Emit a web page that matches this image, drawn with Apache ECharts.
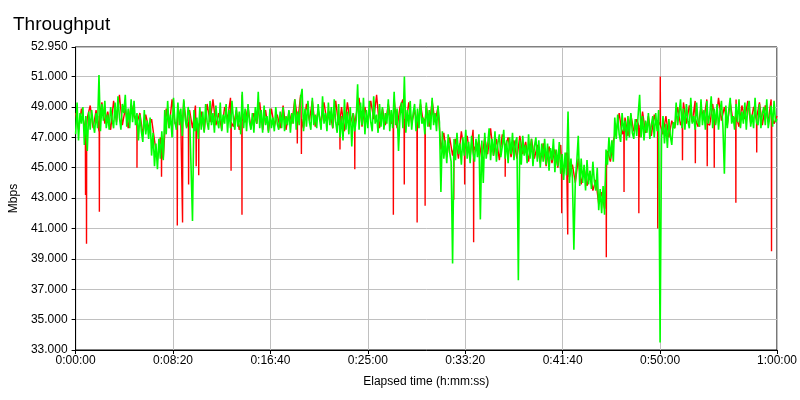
<!DOCTYPE html>
<html>
<head>
<meta charset="utf-8">
<script src="https://cdn.jsdelivr.net/npm/echarts@6/dist/echarts.min.js"></script>
<style>
  html, body { margin: 0; padding: 0; background: #fff; }
  #chart { width: 800px; height: 400px; }
</style>
</head>
<body>
<div id="chart"></div>
<script>
// throughput over one hour
const xTicks = [0, 500, 1000, 1500, 2000, 2500, 3000, 3600]
const yTicks = [33, 35, 37, 39, 41, 43, 45, 47, 49, 51, 52.95]

// green trace, one value every 7.5 s
const greenStep = 7.5
const greenValues = [
  47.2, 49.3, 46.8, 48.6, 47.9, 49.0, 46.5, 48.4, 46.1, 48.7,
  47.5, 48.8, 47.9, 47.3, 48.6, 47.6, 51.1, 47.4, 49.2, 48.1,
  49.4, 47.6, 48.5, 47.5, 49.0, 48.2, 47.6, 49.3, 47.8, 49.7,
  48.3, 47.5, 49.2, 48.6, 49.8, 47.7, 48.9, 47.6, 49.5, 48.0,
  49.4, 47.8, 48.6, 46.8, 48.5, 47.4, 46.7, 48.8, 47.2, 48.1,
  46.9, 48.3, 45.8, 47.3, 45.1, 46.6, 44.9, 46.9, 45.6, 47.4,
  45.5, 48.8, 47.2, 49.4, 47.6, 48.5, 47.0, 49.6, 48.0, 47.5,
  49.3, 47.8, 48.9, 47.1, 49.5, 48.2, 47.6, 49.0, 48.4, 45.1,
  41.5, 48.8, 47.4, 48.3, 46.9, 49.0, 47.5, 48.7, 47.3, 49.2,
  48.0, 47.5, 49.4, 47.8, 48.6, 47.3, 49.1, 48.1, 47.6, 49.3,
  47.4, 48.5, 47.9, 49.2, 47.3, 48.8, 47.6, 49.4, 48.2, 47.5,
  49.0, 47.7, 48.7, 47.2, 50.0, 47.6, 48.9, 47.4, 49.2, 48.0,
  47.5, 48.6, 47.3, 49.0, 47.9, 50.0, 47.6, 48.8, 47.3, 49.1,
  47.8, 48.4, 47.3, 48.9, 47.6, 48.3, 47.4, 49.0, 47.9, 47.5,
  48.7, 47.6, 49.0, 47.4, 48.4, 47.8, 48.8, 47.3, 48.6, 47.9,
  49.5, 47.5, 48.7, 47.8, 49.6, 50.2, 47.4, 48.9, 47.7, 49.4,
  48.0, 47.5, 49.6, 47.8, 48.5, 47.6, 49.2, 48.2, 47.5, 49.7,
  47.9, 48.6, 47.4, 49.3, 47.8, 49.0, 47.6, 49.5, 48.0, 47.3,
  49.2, 47.0, 48.4, 46.8, 49.5, 47.5, 48.7, 47.2, 49.0, 46.4,
  48.6, 47.4, 48.1, 50.5, 47.5, 49.3, 47.8, 49.6, 47.2, 48.8,
  47.6, 49.4, 48.0, 47.4, 49.7, 47.9, 48.5, 47.3, 49.2, 47.7,
  49.0, 47.5, 48.6, 47.9, 49.5, 47.4, 48.8, 47.6, 50.0, 47.8,
  48.9, 46.1, 48.4, 49.3, 47.6, 51.0, 47.3, 48.8, 47.7, 49.4,
  47.5, 48.6, 49.2, 47.4, 48.9, 47.6, 49.5, 47.9, 48.3, 47.2,
  49.3, 47.7, 48.8, 47.5, 49.6, 47.8, 48.6, 47.4, 49.1, 48.0,
  43.4, 47.4, 45.6, 46.8, 45.3, 47.2, 46.0, 45.4, 38.7, 46.9,
  45.5, 47.3, 45.9, 46.6, 45.2, 47.0, 45.8, 47.5, 45.6, 46.7,
  45.3, 47.1, 46.0, 45.4, 46.9, 45.7, 47.2, 41.6, 46.8, 44.0,
  47.3, 45.6, 46.5, 47.6, 45.5, 46.9, 45.8, 47.4, 45.4, 46.6,
  47.2, 45.7, 46.4, 47.5, 45.6, 46.8, 45.3, 47.0, 45.9, 47.3,
  45.5, 46.7, 47.0, 37.6, 46.8, 45.2, 47.1, 45.8, 46.5, 45.3,
  47.2, 45.6, 46.9, 45.1, 46.4, 47.0, 45.4, 46.8, 45.0, 46.6,
  45.4, 46.9, 45.2, 46.6, 44.8, 46.3, 45.5, 46.9, 44.7, 46.2,
  45.1, 46.7, 44.6, 45.9, 44.2, 46.0, 44.5, 48.7, 44.0, 45.6,
  44.3, 39.6, 44.2, 45.4, 47.1, 43.8, 45.6, 44.0, 45.2, 43.5,
  45.5, 43.9, 44.8, 43.6, 45.4, 44.1, 43.5, 45.0, 42.2, 43.6,
  42.0, 43.8, 41.9, 46.2, 45.2, 47.0, 45.6, 46.8, 45.4, 48.3,
  46.9, 48.5, 47.2, 46.7, 48.6, 47.4, 48.1, 46.8, 48.4, 47.0,
  48.6, 47.3, 46.9, 48.2, 47.1, 48.5, 49.8, 47.0, 48.4, 46.8,
  48.1, 47.3, 48.6, 46.9, 47.8, 48.4, 47.0, 48.6, 47.4, 48.8,
  33.5, 47.0, 48.4, 46.6, 47.9, 46.3, 48.2, 47.1, 46.5, 48.0,
  47.6, 49.3, 47.8, 48.6, 49.5, 47.6, 48.9, 47.5, 49.2, 48.1,
  47.6, 49.6, 47.9, 48.4, 47.5, 49.3, 48.0, 47.7, 49.5, 47.8,
  48.8, 47.5, 49.4, 47.9, 48.5, 49.7, 47.6, 48.9, 47.8, 49.2,
  47.5, 48.7, 49.4, 47.7, 44.6, 49.1, 47.6, 48.8, 49.6, 47.9,
  48.4, 47.5, 49.2, 48.0, 49.5, 47.6, 48.7, 47.9, 49.3, 47.5,
  48.9, 49.4, 47.7, 48.5, 47.6, 49.6, 48.0, 47.8, 49.2, 47.6,
  48.6, 49.0, 47.8, 49.5, 47.6, 48.3, 49.1, 47.7, 49.4, 48.0,
  48.2
]

// red trace, one value every 15 s
const redStep = 15
const redValues = [
  48.6, 47.5, 48.9, 47.8, 48.3, 49.1, 47.6, 48.8, 47.4, 49.3,
  47.9, 48.7, 47.5, 49.4, 48.0, 49.8, 47.8, 48.9, 47.6, 49.2,
  48.4, 47.4, 48.6, 47.2, 48.5, 47.6, 48.2, 46.8, 45.5, 47.0,
  45.6, 48.9, 47.6, 49.5, 47.9, 49.0, 48.1, 49.4, 47.7, 48.8,
  47.6, 49.1, 47.9, 48.7, 47.4, 49.2, 48.0, 49.5, 47.8, 48.6,
  47.5, 49.0, 48.2, 49.6, 47.7, 48.8, 47.5, 49.8, 48.0, 49.0,
  47.6, 48.6, 47.9, 49.3, 47.5, 48.8, 47.4, 48.9, 47.7, 48.5,
  47.6, 49.1, 47.5, 48.7, 47.9, 49.5, 48.0, 49.8, 47.6, 49.2,
  48.1, 49.4, 47.7, 48.8, 47.9, 49.3, 48.0, 48.7, 47.6, 49.4,
  47.8, 49.0, 47.4, 49.3, 47.9, 48.6, 48.1, 49.6, 47.7, 49.0,
  47.9, 49.4, 48.2, 49.8, 47.6, 48.9, 47.8, 49.2, 47.9, 49.5,
  47.6, 49.0, 49.5, 47.8, 49.3, 47.9, 48.8, 47.6, 49.2, 48.0,
  49.1, 47.7, 49.4, 48.0, 49.0, 46.2, 47.3, 45.7, 47.0, 45.8,
  46.9, 45.6, 47.4, 46.0, 47.1, 45.7, 47.5, 46.1, 46.8, 45.6,
  47.0, 45.9, 47.6, 45.8, 46.9, 45.5, 47.2, 46.0, 47.0, 45.7,
  46.8, 45.6, 47.1, 45.9, 46.7, 45.4, 46.9, 45.6, 46.5, 45.3,
  46.6, 45.1, 46.4, 45.3, 46.2, 45.0, 46.5, 44.6, 46.0, 44.4,
  45.2, 44.0, 45.6, 43.9, 45.0, 43.8, 44.8, 43.5, 44.2, 42.6,
  43.4, 42.3, 46.1, 45.4, 46.8, 47.4, 48.6, 47.2, 48.3, 47.1,
  48.5, 47.4, 48.2, 47.0, 48.7, 47.3, 48.4, 47.1, 48.5, 47.6,
  48.0, 47.2, 48.4, 47.0, 48.1, 47.6, 49.0, 47.8, 49.3, 47.9,
  49.1, 48.0, 49.4, 47.7, 49.0, 48.2, 49.5, 47.8, 49.2, 47.9,
  49.6, 48.1, 49.0, 47.8, 49.3, 48.0, 49.5, 47.7, 49.1, 48.2,
  49.4, 47.9, 49.0, 48.1, 49.3, 47.8, 49.1, 48.0, 49.5, 47.9,
  48.4
]

// red drop-outs: [seconds, level around it, lowest Mbps]
const redDrops = [
  [51, 47.6, 43.2], [56, 47.8, 40.0], [122, 48.4, 42.1], [315, 48.0, 45.0],
  [441, 46.4, 44.4], [522, 47.8, 41.2], [549, 48.2, 41.4], [580, 48.0, 43.9],
  [619, 47.6, 45.1], [632, 47.6, 44.5], [798, 48.0, 44.8], [854, 48.2, 41.9],
  [1138, 48.4, 46.6], [1159, 48.2, 45.9], [1357, 48.2, 46.2], [1433, 48.0, 44.9],
  [1631, 48.2, 41.9], [1687, 48.2, 43.9], [1753, 48.0, 41.4], [1794, 48.2, 42.5],
  [1941, 46.2, 42.9], [1997, 46.2, 43.9], [2043, 46.4, 40.1], [2205, 46.4, 44.4],
  [2495, 45.4, 42.0], [2526, 46.0, 40.6], [2724, 45.0, 39.1], [2815, 47.6, 43.4],
  [2891, 47.8, 42.0], [2988, 47.8, 41.0], [3001, 47.8, 51.0], [3115, 48.2, 45.5],
  [3181, 48.2, 45.3], [3242, 47.9, 45.1], [3278, 48.4, 45.0], [3389, 48.4, 42.7],
  [3496, 48.4, 46.0], [3572, 48.4, 39.5]
]

function hms(v) {
  const h = Math.floor(v / 3600)
  const m = Math.floor((v % 3600) / 60)
  const s = Math.round(v % 60)
  return h + ':' + String(m).padStart(2, '0') + ':' + String(s).padStart(2, '0')
}

const redData = redValues.map((v, i) => [i * redStep, v])
redDrops.forEach(d => {
  redData.push([d[0] - 1, d[1]], [d[0], d[2]], [d[0] + 1, d[1]])
})
redData.sort((a, b) => a[0] - b[0])

const font = 'Liberation Sans, Arial, sans-serif'
const chart = echarts.init(document.getElementById('chart'))
const option = {
  animation: false,
  backgroundColor: '#fff',
  title: {
    text: 'Throughput',
    left: 8,
    top: 10,
    textStyle: { fontFamily: font, fontSize: 19, fontWeight: 'normal', color: '#000' }
  },
  grid: {
    left: 70, right: 22, top: 47, bottom: 50,
    show: true, borderColor: '#000', borderWidth: 1
  },
  xAxis: {
    type: 'value',
    min: 0,
    max: 3600,
    name: 'Elapsed time (h:mm:ss)',
    nameLocation: 'middle',
    nameGap: 26,
    nameTextStyle: { fontFamily: font, fontSize: 12, color: '#000' },
    axisLine: { lineStyle: { color: '#000' } },
    axisTick: { show: true, length: 4, customValues: xTicks, lineStyle: { color: '#000' } },
    axisLabel: {
      customValues: xTicks,
      margin: 5,
      fontFamily: font, fontSize: 12, color: '#000',
      formatter: hms
    },
    splitLine: { show: true, lineStyle: { color: '#c0c0c0', width: 1 } }
  },
  yAxis: {
    type: 'value',
    min: 33,
    max: 52.95,
    name: 'Mbps',
    nameLocation: 'middle',
    nameGap: 48,
    nameTextStyle: { fontFamily: font, fontSize: 12, color: '#000' },
    axisLine: { show: true, lineStyle: { color: '#000' } },
    axisTick: { show: true, length: 4, customValues: yTicks, lineStyle: { color: '#000' } },
    axisLabel: {
      customValues: yTicks,
      margin: 8,
      fontFamily: font, fontSize: 12, color: '#000',
      formatter: function (v) { return v.toFixed(3) }
    },
    splitLine: { show: true, lineStyle: { color: '#c0c0c0', width: 1 } }
  },
  series: [
    {
      name: 'red',
      type: 'line',
      data: redData,
      symbol: 'none',
      silent: true,
      lineStyle: { color: '#ff0000', width: 1.4 }
    },
    {
      name: 'green',
      type: 'line',
      data: greenValues.map((v, i) => [i * greenStep, v]),
      symbol: 'none',
      silent: true,
      lineStyle: { color: '#00ff00', width: 1.6 }
    }
  ]
}
chart.setOption(option)
</script>
</body>
</html>
